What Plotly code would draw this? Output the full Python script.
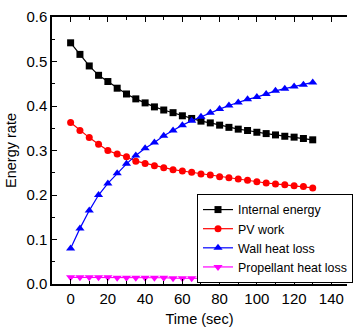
import plotly.graph_objects as go

time = [0, 5, 10, 15, 20, 25, 30, 35, 40, 45, 50, 55, 60, 65, 70, 75, 80, 85, 90, 95, 100, 105, 110, 115, 120, 125, 130]
internal_energy = [0.542, 0.516, 0.490, 0.469, 0.455, 0.440, 0.427, 0.416, 0.407, 0.398, 0.391, 0.385,
                   0.378, 0.372, 0.366, 0.362, 0.357, 0.352, 0.348, 0.345, 0.341, 0.338, 0.335, 0.332,
                   0.330, 0.327, 0.324]
pv_work = [0.363, 0.345, 0.329, 0.314, 0.300, 0.292, 0.286, 0.276, 0.271, 0.266, 0.261, 0.257,
           0.254, 0.251, 0.247, 0.245, 0.241, 0.239, 0.236, 0.233, 0.230, 0.227, 0.225, 0.223,
           0.221, 0.219, 0.216]
wall_heat_loss = [0.080, 0.125, 0.165, 0.200, 0.226, 0.249, 0.270, 0.289, 0.305, 0.318, 0.333, 0.345,
                  0.357, 0.367, 0.376, 0.385, 0.393, 0.401, 0.408, 0.415, 0.420, 0.427, 0.434, 0.439,
                  0.444, 0.448, 0.453]
propellant_heat_loss = [0.015, 0.015, 0.015, 0.015, 0.015, 0.014, 0.014, 0.014, 0.014, 0.014, 0.014, 0.013,
                        0.013, 0.013, 0.013, 0.013, 0.012, 0.012, 0.012, 0.012, 0.012, 0.012, 0.011, 0.011,
                        0.011, 0.011, 0.011]
x_ticks = [0, 20, 40, 60, 80, 100, 120, 140]
y_ticks = [0.0, 0.1, 0.2, 0.3, 0.4, 0.5, 0.6]
y_tick_labels = ["0.0", "0.1", "0.2", "0.3", "0.4", "0.5", "0.6"]

series = [
    ("Internal energy", internal_energy, "#000000", "square", 7),
    ("PV work", pv_work, "#ff0000", "circle", 7),
    ("Wall heat loss", wall_heat_loss, "#0000ff", "triangle-up", 8),
    ("Propellant heat loss", propellant_heat_loss, "#ff00ff", "triangle-down", 8),
]

FONT = "Liberation Sans, Arial, sans-serif"

fig = go.Figure()
for name, vals, color, sym, size in series:
    fig.add_trace(go.Scatter(
        x=time, y=vals, name=name, mode="lines+markers",
        line=dict(color=color, width=1.2),
        marker=dict(symbol=sym, size=size, color=color, line=dict(width=0)),
    ))

fig.update_layout(
    width=353, height=336,
    margin=dict(l=52, r=0, t=17, b=52),
    paper_bgcolor="white", plot_bgcolor="white",
    font=dict(family=FONT, size=15, color="black"),
    showlegend=True,
    legend=dict(
        x=0.492, y=0.337, xanchor="left", yanchor="top",
        bordercolor="black", borderwidth=1, bgcolor="white",
        font=dict(family=FONT, size=12.4, color="black"),
        tracegroupgap=0, itemwidth=30,
    ),
)
fig.update_xaxes(
    range=[-10, 148.4], tickvals=x_ticks,
    ticks="inside", ticklen=5, tickwidth=1, tickcolor="black",
    minor=dict(tickvals=[-10, 10, 30, 50, 70, 90, 110, 130], ticks="inside", ticklen=3, tickcolor="black"),
    showline=True, linecolor="black", linewidth=1.5, mirror="ticks",
    showgrid=False, zeroline=False,
    title=dict(text="Time (sec)", font=dict(family=FONT, size=14.5), standoff=8),
    tickfont=dict(family=FONT, size=15),
)
fig.update_yaxes(
    range=[0, 0.6], tickvals=y_ticks, ticktext=y_tick_labels,
    ticks="inside", ticklen=5, tickwidth=1, tickcolor="black",
    minor=dict(tickvals=[0.05, 0.15, 0.25, 0.35, 0.45, 0.55], ticks="inside", ticklen=3, tickcolor="black"),
    showline=True, linecolor="black", linewidth=1.5, mirror=False,
    showgrid=False, zeroline=False,
    title=dict(text="Energy rate", font=dict(family=FONT, size=14.5), standoff=6),
    tickfont=dict(family=FONT, size=15),
)

fig.write_html("out.html")
